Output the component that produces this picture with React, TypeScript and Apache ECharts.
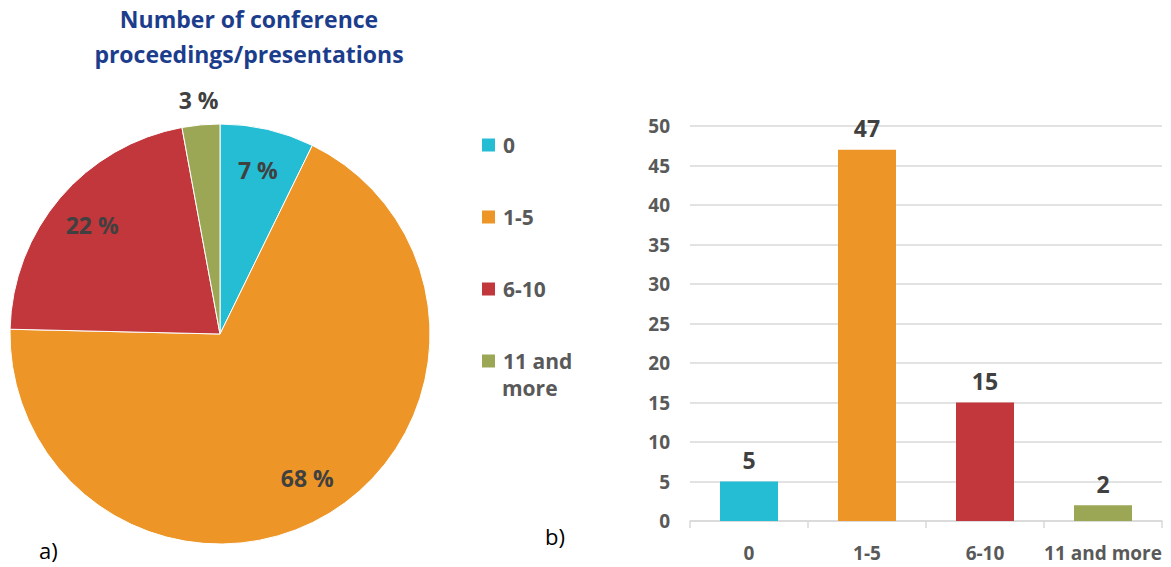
import React, { useEffect, useRef } from "react";
import * as echarts from "echarts";

const categories = ["0", "1-5", "6-10", "11 and more"];
const counts = [5, 47, 15, 2];
const colors = ["#25BDD4", "#ED9526", "#C1373B", "#9BA755"];
const yTicks = { min: 0, max: 50, interval: 5 };
const titleLines = ["Number of conference", "proceedings/presentations"];

const FONT = "'Open Sans', 'Noto Sans', sans-serif";
const PIE_CX = 220;
const PIE_CY = 334;
const PIE_R = 210;

export default function App() {
  const ref = useRef<HTMLDivElement>(null);

  useEffect(() => {
    document.body.style.margin = "0";
    if (!ref.current) return;
    const chart = echarts.init(ref.current, undefined, { renderer: "svg" });
    const total = counts.reduce((a, b) => a + b, 0);

    const option: any = {
      animation: false,
      textStyle: { fontFamily: FONT },
      title: {
        text: titleLines.join("\n"),
        left: 244,
        top: -4,
        textAlign: "center",
        textStyle: {
          fontFamily: FONT,
          fontSize: 23,
          fontWeight: "bold",
          color: "#1c3d8c",
          lineHeight: 35,
        },
      },
      legend: {
        orient: "vertical",
        left: 480,
        top: 132,
        padding: 0,
        itemWidth: 15,
        itemHeight: 15,
        itemGap: 46,
        icon: "rect",
        data: categories,
        formatter: (name: string) => (name === "11 and more" ? "11 and" : name),
        textStyle: {
          fontFamily: FONT,
          fontSize: 21,
          fontWeight: "bold",
          color: "#595959",
          lineHeight: 26,
          padding: [0, 0, 0, 2],
        },
        selectedMode: false,
      },
      graphic: [
        {
          type: "text",
          left: 502,
          top: 377,
          style: {
            text: "more",
            font: `bold 21px ${FONT}`,
            fill: "#595959",
          },
        },
        {
          type: "text",
          left: 39,
          top: 539,
          style: { text: "a)", font: `22px ${FONT}`, fill: "#000" },
        },
        {
          type: "text",
          left: 545,
          top: 525,
          style: { text: "b)", font: `22px ${FONT}`, fill: "#000" },
        },
      ],
      grid: {
        left: 690,
        right: 9,
        top: 126,
        bottom: 46,
      },
      xAxis: {
        type: "category",
        data: categories,
        boundaryGap: true,
        axisLine: { lineStyle: { color: "#d9d9d9", width: 1.5 } },
        axisTick: { show: true, length: 7, lineStyle: { color: "#d9d9d9", width: 1.5 } },
        axisLabel: {
          margin: 22,
          fontFamily: FONT,
          fontSize: 19,
          fontWeight: "bold",
          color: "#595959",
          interval: 0,
        },
      },
      yAxis: {
        type: "value",
        min: yTicks.min,
        max: yTicks.max,
        interval: yTicks.interval,
        axisLine: { show: false },
        axisTick: { show: false },
        splitLine: { lineStyle: { color: "#d9d9d9", width: 1.5 } },
        axisLabel: {
          margin: 20,
          fontFamily: FONT,
          fontSize: 19,
          fontWeight: "bold",
          color: "#595959",
        },
      },
      series: [
        {
          type: "pie",
          center: [PIE_CX, PIE_CY],
          radius: [0, PIE_R],
          startAngle: 90,
          clockwise: true,
          data: categories.map((c, i) => ({
            name: c,
            value: counts[i],
            itemStyle: { color: colors[i] },
          })),
          itemStyle: { borderColor: "#ffffff", borderWidth: 1 },
          label: {
            show: true,
            position: "inside",
            formatter: (p: any) => `${Math.round((p.value / total) * 100)} %`,
            fontFamily: FONT,
            fontSize: 23,
            fontWeight: "bold",
            color: "#404040",
          },
          labelLine: { show: false },
          labelLayout: (params: any) => {
            const i = params.dataIndex;
            let before = 0;
            for (let k = 0; k < i; k++) before += counts[k];
            const mid = ((before + counts[i] / 2) / total) * Math.PI * 2;
            const rr = counts[i] / total < 0.05 ? PIE_R + 25 : PIE_R * 0.8;
            return {
              x: PIE_CX + rr * Math.sin(mid),
              y: PIE_CY - rr * Math.cos(mid),
              align: "center",
              verticalAlign: "middle",
            };
          },
          emphasis: { disabled: true },
        },
        {
          type: "bar",
          data: counts.map((v, i) => ({ value: v, itemStyle: { color: colors[i] } })),
          barWidth: 58,
          label: {
            show: true,
            position: "top",
            distance: 10,
            fontFamily: FONT,
            fontSize: 23,
            fontWeight: "bold",
            color: "#404040",
          },
          emphasis: { disabled: true },
        },
      ],
    };

    chart.setOption(option);
    return () => chart.dispose();
  }, []);

  return <div ref={ref} style={{ width: 1171, height: 567 }} />;
}
